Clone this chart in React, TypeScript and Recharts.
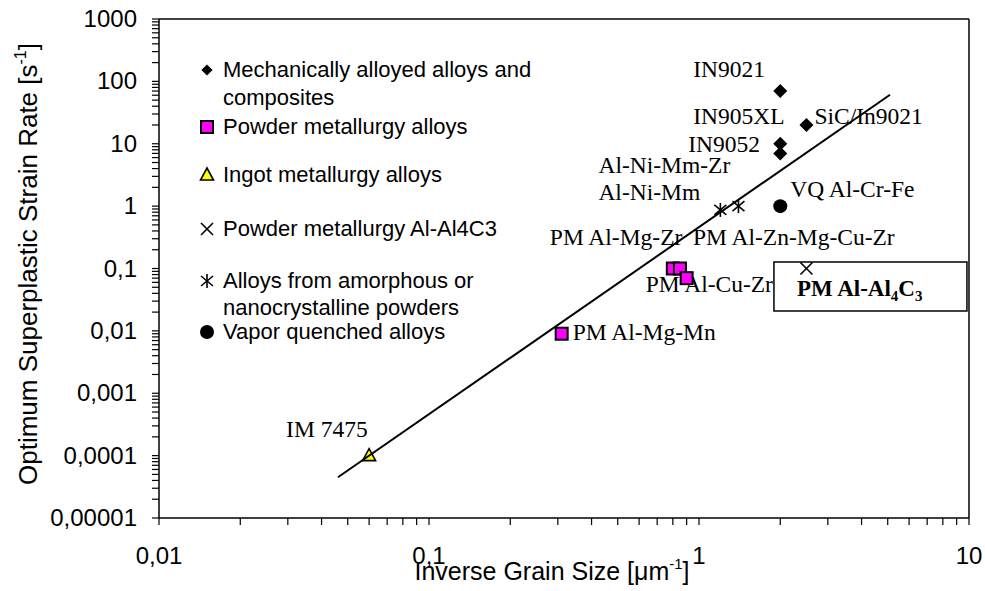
import React from 'react';
import { ScatterChart, Scatter, XAxis, YAxis, ReferenceLine, Customized } from 'recharts';

const SANS = '"Liberation Sans", Arial, sans-serif';
const SERIF = '"Liberation Serif", "Times New Roman", serif';

type Pt = { x: number; y: number; label: string };

// data (x = inverse grain size, y = strain rate)
const mechanicallyAlloyed: Pt[] = [
  { x: 2, y: 70, label: 'IN9021' },
  { x: 2.5, y: 20, label: 'SiC/In9021' },
  { x: 2, y: 10, label: 'IN905XL' },
  { x: 2, y: 7, label: 'IN9052' },
];
const powderMetallurgy: Pt[] = [
  { x: 0.8, y: 0.1, label: 'PM Al-Mg-Zr' },
  { x: 0.85, y: 0.1, label: 'PM Al-Zn-Mg-Cu-Zr' },
  { x: 0.9, y: 0.07, label: 'PM Al-Cu-Zr' },
  { x: 0.31, y: 0.009, label: 'PM Al-Mg-Mn' },
];
const ingotMetallurgy: Pt[] = [{ x: 0.06, y: 0.0001, label: 'IM 7475' }];
const amorphousPowders: Pt[] = [
  { x: 1.2, y: 0.87, label: 'Al-Ni-Mm' },
  { x: 1.4, y: 1, label: 'Al-Ni-Mm-Zr' },
];
const vaporQuenched: Pt[] = [{ x: 2, y: 1, label: 'VQ Al-Cr-Fe' }];
const pmAlAl4C3: Pt[] = [{ x: 2.5, y: 0.1, label: 'PM Al-Al4C3' }];
const trendLine = [
  { x: 0.046, y: 0.000045 },
  { x: 5.1, y: 61 },
];

const xMajor = [0.01, 0.1, 1, 10];
const xMajorLabels = ['0,01', '0,1', '1', '10'];
const yMajor = [0.00001, 0.0001, 0.001, 0.01, 0.1, 1, 10, 100, 1000];
const yMajorLabels = ['0,00001', '0,0001', '0,001', '0,01', '0,1', '1', '10', '100', '1000'];

const legendNames = [
  ['Mechanically alloyed alloys and', 'composites'],
  ['Powder metallurgy alloys'],
  ['Ingot metallurgy alloys'],
  ['Powder metallurgy Al-Al4C3'],
  ['Alloys from amorphous or', 'nanocrystalline powders'],
  ['Vapor quenched alloys'],
];

// minor ticks 2..9 in every decade
const withMinors = (majors: number[]) => {
  const out: number[] = [];
  majors.forEach((m, i) => {
    out.push(m);
    if (i < majors.length - 1) {
      for (let k = 2; k <= 9; k++) out.push(Number((m * k).toPrecision(3)));
    }
  });
  return out;
};
const xTicks = withMinors(xMajor);
const yTicks = withMinors(yMajor);

const majorIndex = (list: number[], v: number) =>
  list.findIndex(m => Math.abs(Math.log10(m) - Math.log10(v)) < 1e-6);

type Kind = 'diamond' | 'square' | 'triangle' | 'cross' | 'asterisk' | 'circle';

const marker = (kind: Kind, cx: number, cy: number, s = 1) => {
  switch (kind) {
    case 'diamond':
      return <polygon points={`${cx},${cy - 7 * s} ${cx + 7 * s},${cy} ${cx},${cy + 7 * s} ${cx - 7 * s},${cy}`} fill="#000" />;
    case 'square':
      return <rect x={cx - 6 * s} y={cy - 6 * s} width={12 * s} height={12 * s} fill="#FF00FF" stroke="#000" strokeWidth={2} />;
    case 'triangle':
      return <polygon points={`${cx},${cy - 7 * s} ${cx + 6.5 * s},${cy + 5 * s} ${cx - 6.5 * s},${cy + 5 * s}`} fill="#FFFF00" stroke="#000" strokeWidth={1.6} />;
    case 'cross':
      return (
        <g stroke="#000" strokeWidth={1.6}>
          <line x1={cx - 6 * s} y1={cy - 6 * s} x2={cx + 6 * s} y2={cy + 6 * s} />
          <line x1={cx - 6 * s} y1={cy + 6 * s} x2={cx + 6 * s} y2={cy - 6 * s} />
        </g>
      );
    case 'asterisk':
      return (
        <g stroke="#000" strokeWidth={1.6}>
          <line x1={cx - 6 * s} y1={cy - 5 * s} x2={cx + 6 * s} y2={cy + 5 * s} />
          <line x1={cx - 6 * s} y1={cy + 5 * s} x2={cx + 6 * s} y2={cy - 5 * s} />
          <line x1={cx} y1={cy - 7 * s} x2={cx} y2={cy + 7 * s} />
        </g>
      );
    default:
      return <circle cx={cx} cy={cy} r={7 * s} fill="#000" />;
  }
};

// text start / baseline relative to the point, in px
const labelOffset: Record<string, [number, number]> = {
  'IN9021': [-87, -14],
  'IN905XL': [-87, -20],
  'IN9052': [-92, -1],
  'SiC/In9021': [8, -1],
  'VQ Al-Cr-Fe': [10, -9],
  'Al-Ni-Mm-Zr': [-140, -33],
  'Al-Ni-Mm': [-122, -10],
  'PM Al-Mg-Zr': [-123, -24],
  'PM Al-Zn-Mg-Cu-Zr': [13, -24],
  'PM Al-Cu-Zr': [-41, 14],
  'PM Al-Mg-Mn': [11, 6],
  'IM 7475': [-83, -19],
};

const makeShape = (kind: Kind) => (props: any) => {
  const { cx, cy } = props;
  const label: string = props.payload?.label ?? props.label ?? '';
  if (label === 'PM Al-Al4C3') {
    return (
      <g>
        <rect x={cx - 32.5} y={cy - 6.5} width={193} height={49} fill="#fff" stroke="#000" strokeWidth={1.5} />
        <text x={cx - 9.5} y={cy + 27.5} fontFamily={SERIF} fontSize={23} fontWeight="bold" fill="#000">
          PM Al-Al<tspan fontSize={15} dy={5}>4</tspan>
          <tspan dy={-5}>C</tspan>
          <tspan fontSize={15} dy={5}>3</tspan>
        </text>
        {marker(kind, cx, cy)}
      </g>
    );
  }
  const off = labelOffset[label] ?? [10, 0];
  return (
    <g>
      <text x={cx + off[0]} y={cy + off[1]} fontFamily={SERIF} fontSize={23.5} fill="#000">{label}</text>
      {marker(kind, cx, cy)}
    </g>
  );
};

const YTick = (props: any) => {
  const { x, y, payload } = props;
  const i = majorIndex(yMajor, payload.value);
  if (i < 0) return <g />;
  return (
    <text x={x - 13} y={y + 8} textAnchor="end" fontSize={24} fontFamily={SANS} fill="#000">{yMajorLabels[i]}</text>
  );
};

const XTick = (props: any) => {
  const { x, y, payload } = props;
  const i = majorIndex(xMajor, payload.value);
  if (i < 0) return <g />;
  return (
    <text x={x} y={y + 37} textAnchor="middle" fontSize={24} fontFamily={SANS} fill="#000">{xMajorLabels[i]}</text>
  );
};

const legendKinds: Kind[] = ['diamond', 'square', 'triangle', 'cross', 'asterisk', 'circle'];
const legendScale = [0.8, 1, 1, 1, 1, 1];
const legendBaselines = [[77, 105], [134], [182], [236], [288, 315], [339]];

const Decorations = () => (
  <g fill="#000">
    <text x={552} y={580} textAnchor="middle" fontSize={25} fontFamily={SANS}>
      Inverse Grain Size [μm<tspan fontSize={15} dy={-11}>-1</tspan>
      <tspan dy={11}>]</tspan>
    </text>
    <text x={37} y={264} transform="rotate(-90 37 264)" textAnchor="middle" fontSize={26} fontFamily={SANS}>
      Optimum Superplastic Strain Rate [s<tspan fontSize={16} dy={-11}>-1</tspan>
      <tspan dy={11}>]</tspan>
    </text>
    {legendNames.map((lines, i) => (
      <g key={i}>
        {marker(legendKinds[i], 207, legendBaselines[i][0] - 7, legendScale[i])}
        {lines.map((t, j) => (
          <text key={j} x={223} y={legendBaselines[i][j]} fontSize={22} fontFamily={SANS}>{t}</text>
        ))}
      </g>
    ))}
  </g>
);

export default function App() {
  return (
    <div style={{ position: 'absolute', left: 0, top: 0, background: '#fff' }}>
      <ScatterChart width={985} height={591} margin={{ top: 19, right: 16, bottom: 0, left: 0 }}>
        <XAxis
          dataKey="x"
          type="number"
          scale="log"
          domain={[0.01, 10]}
          allowDataOverflow
          ticks={xTicks}
          interval={0}
          height={73}
          tickSize={7}
          tick={<XTick />}
          axisLine={{ stroke: '#000', strokeWidth: 1.5 }}
          tickLine={{ stroke: '#000', strokeWidth: 1.2 }}
        />
        <YAxis
          dataKey="y"
          type="number"
          scale="log"
          domain={[0.00001, 1000]}
          allowDataOverflow
          ticks={yTicks}
          interval={0}
          width={159}
          tickSize={7}
          tick={<YTick />}
          axisLine={{ stroke: '#000', strokeWidth: 1.5 }}
          tickLine={{ stroke: '#000', strokeWidth: 1.2 }}
        />
        <ReferenceLine y={1000} stroke="#000" strokeWidth={1.5} />
        <ReferenceLine x={10} stroke="#000" strokeWidth={1.5} />
        <Customized component={Decorations} />
        <Scatter name="Mechanically alloyed alloys and composites" data={mechanicallyAlloyed} shape={makeShape('diamond')} isAnimationActive={false} />
        <Scatter name="Powder metallurgy alloys" data={powderMetallurgy} shape={makeShape('square')} isAnimationActive={false} />
        <Scatter name="Ingot metallurgy alloys" data={ingotMetallurgy} shape={makeShape('triangle')} isAnimationActive={false} />
        <Scatter name="Alloys from amorphous or nanocrystalline powders" data={amorphousPowders} shape={makeShape('asterisk')} isAnimationActive={false} />
        <Scatter name="Vapor quenched alloys" data={vaporQuenched} shape={makeShape('circle')} isAnimationActive={false} />
        <Scatter
          name="trend"
          data={trendLine}
          line={{ stroke: '#000', strokeWidth: 2 }}
          shape={() => <g />}
          legendType="none"
          isAnimationActive={false}
        />
        <Scatter name="Powder metallurgy Al-Al4C3" data={pmAlAl4C3} shape={makeShape('cross')} isAnimationActive={false} />
      </ScatterChart>
    </div>
  );
}
